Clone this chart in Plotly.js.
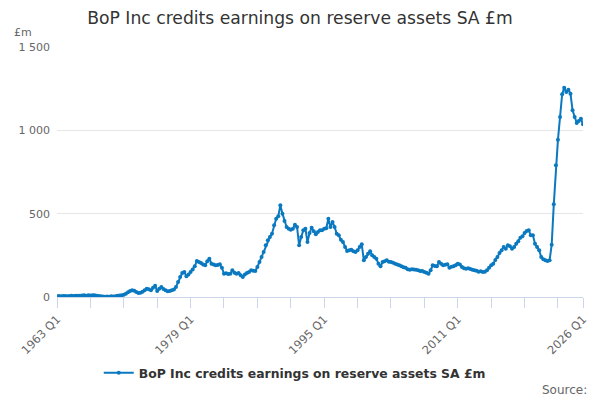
<!DOCTYPE html>
<html>
<head>
<meta charset="utf-8">
<script src="https://cdn.plot.ly/plotly-3.0.1.min.js"></script>
<style>
  html, body { margin: 0; padding: 0; background: #fff; }
  #chart { width: 600px; height: 400px; }
</style>
</head>
<body>
<div id="chart"></div>
<script>
// quarterly series, 1963 Q1 .. 2026 Q1 (£m)
var firstYear = 1963;
var lastYear = 2026;
var values = [
  5, 6, 5, 6,          // 1963
  6, 5, 6, 7,          // 1964
  6, 7, 8, 7,          // 1965
  9, 10, 8, 10,        // 1966
  9, 11, 10, 8,        // 1967
  6, 4, 3, 2,          // 1968
  3, 2, 4, 3,          // 1969
  5, 7, 9, 10,         // 1970
  14, 20, 28, 36,      // 1971
  40, 38, 30, 24,      // 1972
  26, 32, 40, 50,      // 1973
  46, 40, 55, 68,      // 1974
  36, 50, 60, 48,      // 1975
  40, 34, 36, 40,      // 1976
  45, 60, 90, 120,     // 1977
  144, 150, 124, 135,  // 1978
  150, 165, 184, 216,  // 1979
  210, 204, 195, 190,  // 1980
  215, 230, 200, 195,  // 1981
  190, 192, 196, 176,  // 1982
  140, 142, 138, 140,  // 1983
  160, 145, 140, 144,  // 1984
  130, 120, 135, 144,  // 1985
  150, 160, 158, 156,  // 1986
  180, 210, 240, 270,  // 1987
  310, 340, 360, 380,  // 1988
  430, 470, 484, 550,  // 1989
  500, 456, 420, 410,  // 1990
  404, 410, 434, 420,  // 1991
  310, 360, 400, 410,  // 1992
  330, 384, 416, 395,  // 1993
  376, 390, 400, 400,  // 1994
  410, 412, 470, 420,  // 1995
  450, 420, 380, 370,  // 1996
  344, 330, 300, 276,  // 1997
  280, 284, 275, 270,  // 1998
  280, 300, 316, 220,  // 1999
  240, 260, 274, 250,  // 2000
  240, 230, 200, 184,  // 2001
  210, 215, 220, 212,  // 2002
  210, 205, 200, 195,  // 2003
  190, 184, 178, 176,  // 2004
  166, 164, 166, 165,  // 2005
  164, 160, 156, 156,  // 2006
  150, 146, 140, 160,  // 2007
  190, 186, 184, 210,  // 2008
  200, 190, 194, 196,  // 2009
  176, 182, 184, 190,  // 2010
  200, 195, 180, 172,  // 2011
  170, 172, 168, 164,  // 2012
  160, 158, 152, 154,  // 2013
  150, 152, 160, 175,  // 2014
  190, 200, 222, 240,  // 2015
  264, 280, 300, 290,  // 2016
  310, 305, 290, 300,  // 2017
  320, 335, 356, 364,  // 2018
  384, 396, 400, 370,  // 2019
  370, 320, 300, 280,  // 2020
  240, 226, 220, 216,  // 2021
  220, 314, 556, 790,  // 2022
  944, 1080, 1216, 1256, // 2023
  1230, 1244, 1220, 1120, // 2024
  1080, 1044, 1056, 1070, // 2025
  1036                 // 2026
];

var quarters = [];
for (var yr = firstYear; yr <= lastYear; yr++) {
  for (var q = 1; q <= 4; q++) {
    if (quarters.length < values.length) quarters.push(yr + ' Q' + q);
  }
}

var labelled = ['1963 Q1', '1979 Q1', '1995 Q1', '2011 Q1', '2026 Q1'];
var seriesName = 'BoP Inc credits earnings on reserve assets SA £m';

// tick marks every 4 years, labels only on a few
var tickVals = [], tickText = [];
for (var i = 0; i < quarters.length; i += 16) {
  tickVals.push(quarters[i]);
}
if (tickVals[tickVals.length - 1] !== quarters[quarters.length - 1]) tickVals.push(quarters[quarters.length - 1]);
tickVals.forEach(function (v) { tickText.push(labelled.indexOf(v) >= 0 ? v : ''); });

var FONT = 'DejaVu Sans, sans-serif';

var trace = {
  name: '<b>' + seriesName + '</b>',
  x: quarters,
  y: values,
  type: 'scatter',
  mode: 'lines+markers',
  line: { color: '#0a79c0', width: 2 },
  marker: { color: '#0a79c0', size: 4 },
  hoverinfo: 'skip'
};

var layout = {
  width: 600,
  height: 400,
  font: { family: FONT, color: '#666' },
  separators: '. ',
  paper_bgcolor: '#fff',
  plot_bgcolor: '#fff',
  margin: { l: 57, r: 17, t: 47, b: 103 },
  title: {
    text: 'BoP Inc credits earnings on reserve assets SA £m',
    font: { size: 17.2, color: '#333', family: FONT },
    x: 0.5, xref: 'container', xanchor: 'center',
    y: 0.955, yref: 'container', yanchor: 'middle'
  },
  xaxis: {
    type: 'category',
    range: [0, quarters.length - 1],
    tickmode: 'array',
    tickvals: tickVals,
    ticktext: tickText,
    tickangle: -45,
    ticks: 'outside',
    ticklen: 10,
    tickcolor: '#ccd6eb',
    showline: true,
    linecolor: '#ccd6eb',
    linewidth: 1,
    showgrid: false,
    zeroline: false,
    tickfont: { size: 11.5, color: '#666', family: FONT }
  },
  yaxis: {
    range: [0, 1500],
    dtick: 500,
    tickformat: ',',
    showgrid: true,
    gridcolor: '#e6e6e6',
    zeroline: false,
    showline: false,
    ticks: '',
    ticklen: 0,
    ticklabelstandoff: 6,
    tickfont: { size: 11, color: '#666', family: FONT }
  },
  showlegend: true,
  legend: {
    orientation: 'h',
    x: 0.452, xanchor: 'center',
    y: -0.305, yanchor: 'middle',
    font: { size: 12.4, color: '#333', family: FONT },
    itemwidth: 30
  },
  annotations: [
    {
      text: '£m', xref: 'paper', yref: 'paper',
      x: -0.086, y: 1.058, xanchor: 'left', yanchor: 'middle',
      showarrow: false, font: { size: 11, color: '#666', family: FONT }
    },
    {
      text: 'Source:', xref: 'paper', yref: 'paper',
      x: 1.012, y: -0.373, xanchor: 'right', yanchor: 'middle',
      showarrow: false, font: { size: 12, color: '#666', family: FONT }
    }
  ]
};

Plotly.newPlot('chart', [trace], layout, { displayModeBar: false, staticPlot: true });
</script>
</body>
</html>
